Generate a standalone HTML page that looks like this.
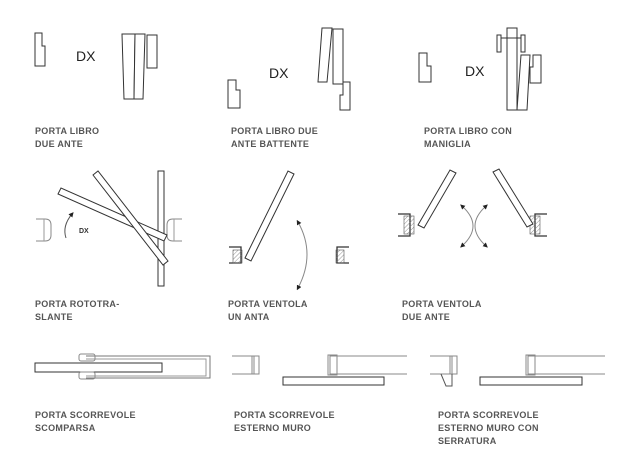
<!DOCTYPE html>
<html><head><style>
body{margin:0;background:#fff;}
svg{display:block}
.l{font-family:"Liberation Sans",sans-serif;font-size:9px;font-weight:bold;fill:#555;letter-spacing:0.3px}
.d{fill:#fff;stroke:#333;stroke-width:1}
.g{fill:none;stroke:#888;stroke-width:1}
</style></head><body>
<svg width="628" height="466" viewBox="0 0 628 466" xmlns="http://www.w3.org/2000/svg">
<defs><pattern id="h" width="3" height="3" patternUnits="userSpaceOnUse" patternTransform="rotate(45)"><line x1="0" y1="0" x2="0" y2="3" stroke="#777" stroke-width="0.8"/></pattern>
<marker id="a" viewBox="0 0 6 6" refX="3" refY="3" markerWidth="5" markerHeight="5" orient="auto-start-reverse"><path d="M0,0L6,3L0,6z" fill="#222"/></marker></defs>
<!-- row 1 -->
<path class="d" d="M35,33h7v13h3v20h-10z"/>
<text x="76" y="61" font-family="Liberation Sans,sans-serif" font-size="14" fill="#222">DX</text>
<path class="d" d="M122,34h13l-1,65h-10z"/><path class="d" d="M135,34h10l-2,65h-9z"/><path class="d" d="M147,35h10v33h-10z"/>
<path class="d" d="M228,80h8v10h4v18h-12z"/>
<text x="269" y="78" font-family="Liberation Sans,sans-serif" font-size="14" fill="#222">DX</text>
<path class="d" d="M322,28h10l-5,54h-9z"/><path class="d" d="M333,29h10v55h-10z"/><path class="d" d="M343,82h7v28h-10v-15h3z"/>
<path class="d" d="M419,53h8v13h4v16h-12z"/>
<text x="465" y="76" font-family="Liberation Sans,sans-serif" font-size="14" fill="#222">DX</text>
<path class="d" d="M507,28h10v82h-10z"/><path class="d" d="M521,55h9l-3,55h-10z"/><path class="d" d="M533,55h8v28h-11v-16h3z"/>
<path class="d" d="M497,35h4v17h-4z"/><path class="d" d="M521,35h4v17h-4z"/><line x1="501" y1="38" x2="521" y2="38" stroke="#333"/>
<text class="l" x="35" y="134">PORTA LIBRO</text><text class="l" x="35" y="147">DUE ANTE</text>
<text class="l" x="231" y="134">PORTA LIBRO DUE</text><text class="l" x="231" y="147">ANTE BATTENTE</text>
<text class="l" x="424" y="134">PORTA LIBRO CON</text><text class="l" x="424" y="147">MANIGLIA</text>
<!-- row 2 rototraslante -->
<path class="g" d="M36,219h9q6,0 6,6v10q0,6-6,6h-9" stroke="#555"/><line x1="44" y1="219" x2="44" y2="241" stroke="#999"/>
<path class="g" d="M182,219h-9q-6,0-6,6v10q0,6 6,6h9" stroke="#555"/><line x1="174" y1="219" x2="174" y2="241" stroke="#999"/>
<rect class="d" x="158" y="171" width="6" height="115"/>
<path class="d" d="M58,194l3,-6l106,47l-3,6z"/>
<path class="d" d="M93,175l5,-4l70,90l-5,4z"/>
<path d="M66,238q-4,-12 6,-24" fill="none" stroke="#555" marker-end="url(#a)"/>
<text x="79" y="233" font-family="Liberation Sans,sans-serif" font-size="7" font-weight="bold" fill="#333">DX</text>
<!-- ventola un anta -->
<path d="M229,247h12v16h-12" fill="none" stroke="#333" stroke-width="1.3"/><rect x="233" y="250" width="9" height="13" fill="url(#h)" stroke="#555" stroke-width="0.6"/>
<path class="d" d="M245,258l43,-87l6,3l-43,87z"/>
<path d="M349,247h-12v16h12" fill="none" stroke="#333" stroke-width="1.3"/><rect x="336" y="250" width="8" height="13" fill="url(#h)" stroke="#555" stroke-width="0.6"/>
<path d="M298,222q18,32 0,66" fill="none" stroke="#888" marker-start="url(#a)" marker-end="url(#a)"/>
<!-- ventola due ante -->
<path d="M398,214h12v22h-12" fill="none" stroke="#333" stroke-width="1.3"/><rect x="404" y="216" width="10" height="18" fill="url(#h)" stroke="#555" stroke-width="0.6"/>
<path class="d" d="M418,225l32,-55l6,3l-32,55z"/>
<path d="M547,214h-12v22h12" fill="none" stroke="#333" stroke-width="1.3"/><rect x="530" y="216" width="10" height="18" fill="url(#h)" stroke="#555" stroke-width="0.6"/>
<path class="d" d="M493,172l6,-3l34,55l-6,3z"/>
<path d="M462,206q22,20 0,40" fill="none" stroke="#888" marker-start="url(#a)" marker-end="url(#a)"/>
<path d="M486,206q-22,20 0,40" fill="none" stroke="#888" marker-start="url(#a)" marker-end="url(#a)"/>
<text class="l" x="35" y="307">PORTA ROTOTRA-</text><text class="l" x="35" y="320">SLANTE</text>
<text class="l" x="228" y="307">PORTA VENTOLA</text><text class="l" x="228" y="320">UN ANTA</text>
<text class="l" x="402" y="307">PORTA VENTOLA</text><text class="l" x="402" y="320">DUE ANTE</text>
<!-- row 3 scomparsa -->
<path d="M86,356h124v22h-124" fill="none" stroke="#777"/><path d="M86,359h120v17h-120" fill="none" stroke="#999"/>
<rect class="d" x="35" y="363" width="127" height="9" stroke="#666"/>
<rect x="79" y="354" width="16" height="7" rx="2" class="g" stroke="#666"/><rect x="79" y="372" width="16" height="7" rx="2" class="g" stroke="#666"/>
<!-- esterno muro -->
<path d="M232,356h22v18h-22" fill="none" stroke="#888"/><rect x="252" y="356" width="7" height="18" class="g" stroke="#555"/>
<path d="M407,356h-77v18h77" fill="none" stroke="#888"/><rect x="328" y="355" width="9" height="20" class="g" stroke="#555"/>
<rect class="d" x="283" y="377" width="101" height="8" stroke="#777"/>
<path d="M430,356h22v18h-22" fill="none" stroke="#888"/><rect x="450" y="356" width="7" height="18" class="g" stroke="#555"/>
<path d="M441,374l5,12h6v-12" fill="none" stroke="#555"/>
<path d="M605,356h-77v18h77" fill="none" stroke="#888"/><rect x="526" y="355" width="9" height="20" class="g" stroke="#555"/>
<rect class="d" x="480" y="377" width="102" height="8" stroke="#777"/>
<text class="l" x="35" y="418">PORTA SCORREVOLE</text><text class="l" x="35" y="431">SCOMPARSA</text>
<text class="l" x="234" y="418">PORTA SCORREVOLE</text><text class="l" x="234" y="431">ESTERNO MURO</text>
<text class="l" x="438" y="418">PORTA SCORREVOLE</text><text class="l" x="438" y="431">ESTERNO MURO CON</text><text class="l" x="438" y="444">SERRATURA</text>
</svg>
</body></html>
